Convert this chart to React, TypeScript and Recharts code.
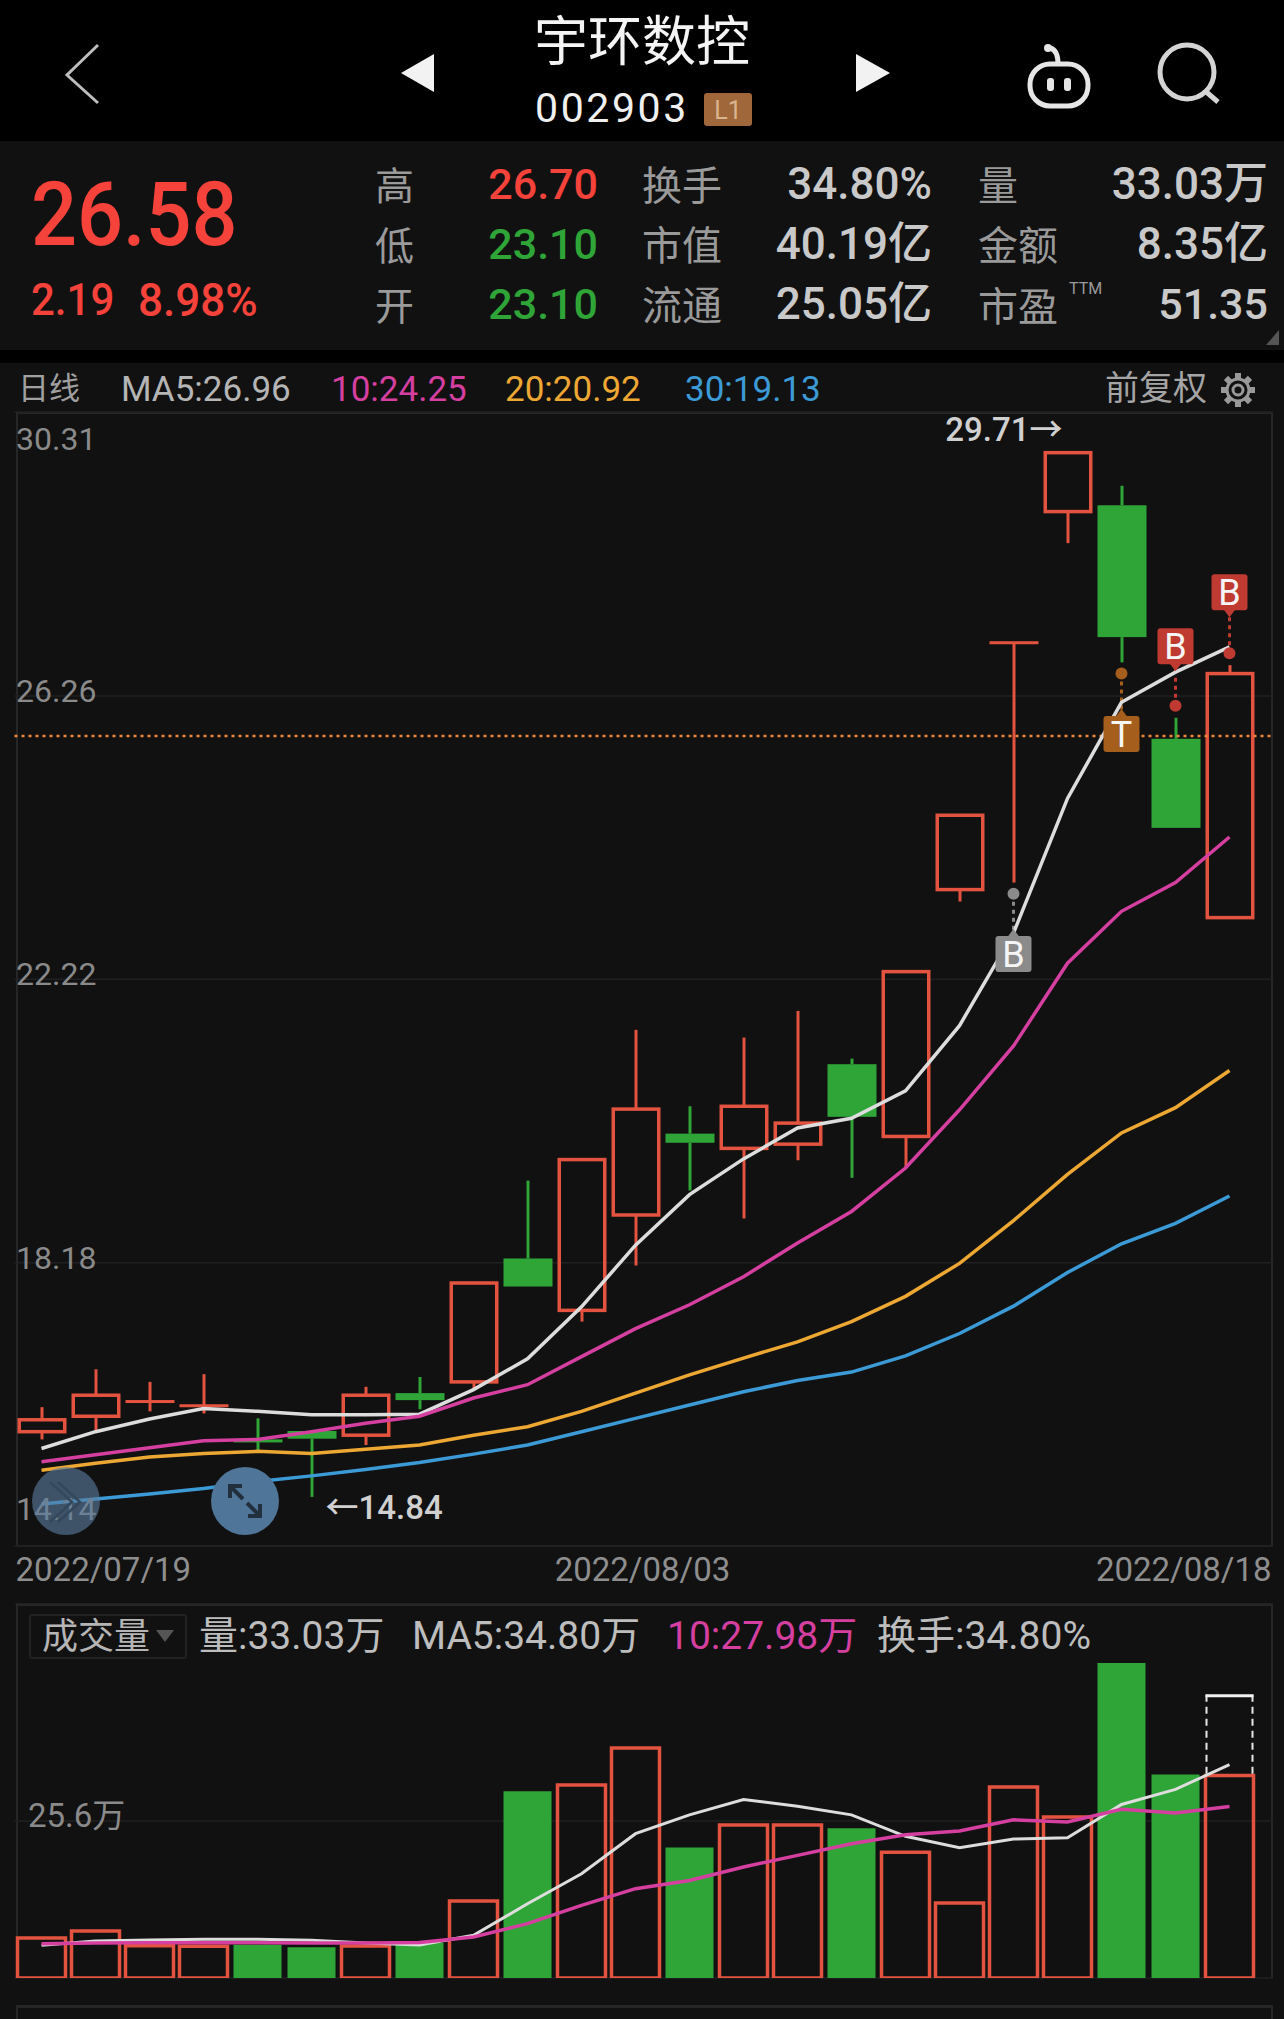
import React from 'react'
import {
  ComposedChart,
  Bar,
  Line,
  Cell,
  XAxis,
  YAxis,
  CartesianGrid,
  ReferenceLine,
  ReferenceDot,
} from 'recharts'

const RED = '#e4533f'
const GREEN = '#2fa538'
const PINK = '#d53fa0'
const ORANGE = '#eda733'
const BLUE = '#3c9bd6'
const WHITE = '#dddddd'
const GRID = '#262626'
const FONT = 'Roboto, "Noto Sans CJK SC", sans-serif'

const DATES = [
  '2022/07/19', '2022/07/20', '2022/07/21', '2022/07/22', '2022/07/25', '2022/07/26',
  '2022/07/27', '2022/07/28', '2022/07/29', '2022/08/01', '2022/08/02', '2022/08/03',
  '2022/08/04', '2022/08/05', '2022/08/08', '2022/08/09', '2022/08/10', '2022/08/11',
  '2022/08/12', '2022/08/15', '2022/08/16', '2022/08/17', '2022/08/18',
]
const DATE_TICKS = ['2022/07/19', '2022/08/03', '2022/08/18']
const PRICE_TICKS = [14.14, 18.18, 22.22, 26.26, 30.31]

const OPEN = [15.77, 15.99, 16.18, 16.14, 15.66, 15.78, 15.72, 16.32, 16.48, 18.24, 17.5, 18.86, 20.02, 19.81, 19.87, 21.01, 19.98, 23.5, 27.02, 28.89, 28.98, 25.65, 23.1]
const CLOSE = [15.94, 16.29, 16.2, 16.14, 15.65, 15.67, 16.29, 16.22, 17.89, 17.84, 19.65, 20.37, 19.89, 20.41, 20.17, 20.26, 22.33, 24.56, 27.02, 29.73, 27.1, 24.38, 26.58]
const HIGH = [16.12, 16.66, 16.48, 16.59, 15.96, 15.78, 16.41, 16.55, 17.89, 19.35, 19.65, 21.5, 20.41, 21.39, 21.77, 21.09, 22.33, 24.56, 27.02, 29.73, 29.26, 25.95, 26.7]
const LOW = [15.66, 15.79, 16.06, 16.03, 15.5, 14.84, 15.58, 16.09, 16.37, 17.84, 17.34, 18.14, 19.21, 18.81, 19.64, 19.39, 19.53, 23.33, 23.6, 28.44, 26.74, 24.38, 23.1]

const MA5 = [15.53, 15.77, 15.95, 16.1, 16.06, 16.01, 16.01, 16.02, 16.37, 16.81, 17.55, 18.43, 19.15, 19.66, 20.1, 20.24, 20.63, 21.56, 22.88, 24.8, 26.17, 26.6, 26.96]
const MA10 = [15.34, 15.44, 15.54, 15.64, 15.66, 15.77, 15.89, 15.99, 16.25, 16.44, 16.84, 17.24, 17.58, 17.98, 18.46, 18.91, 19.53, 20.36, 21.27, 22.45, 23.19, 23.6, 24.25]
const MA20 = [15.22, 15.32, 15.41, 15.46, 15.49, 15.46, 15.52, 15.58, 15.72, 15.84, 16.06, 16.32, 16.58, 16.82, 17.05, 17.34, 17.7, 18.17, 18.78, 19.44, 20.03, 20.39, 20.92]
const MA30 = [14.74, 14.81, 14.88, 14.96, 15.06, 15.14, 15.23, 15.33, 15.45, 15.58, 15.77, 15.96, 16.15, 16.34, 16.5, 16.62, 16.85, 17.17, 17.56, 18.04, 18.45, 18.74, 19.13]

const VOLUME = [6.52, 7.66, 5.27, 5.16, 5.43, 5.0, 5.22, 5.71, 12.55, 30.44, 31.47, 37.5, 21.3, 24.95, 24.95, 24.4, 20.49, 12.23, 31.14, 26.25, 51.36, 33.2, 33.03]
const VOLUME_EXTRA = [0, 0, 0, 0, 0, 0, 0, 0, 0, 0, 0, 0, 0, 0, 0, 0, 0, 0, 0, 0, 0, 0, 13.17]
const VOL_MA5 = [5.33, 6.03, 6.2, 6.3, 6.3, 6.14, 5.7, 5.38, 6.96, 12.1, 17.0, 23.53, 26.6, 29.1, 28.0, 26.6, 23.1, 21.25, 22.66, 22.88, 28.3, 30.76, 34.8]
const VOL_MA10 = [5.6, 5.7, 5.75, 5.75, 5.75, 5.7, 5.7, 5.8, 6.7, 8.86, 11.85, 14.57, 15.9, 18.1, 20.0, 21.9, 23.37, 23.97, 25.8, 25.44, 27.5, 26.9, 27.98]

const SIGNAL_DATES = ['2022/08/12', '2022/08/16', '2022/08/17', '2022/08/18']
const SIGNAL_KINDS = ['B', 'T', 'B', 'B']
const SIGNAL_COLORS = ['#8b8b8b', '#a55e1b', '#bf3a30', '#bf3a30']
const SIGNAL_DOTS = [23.44, 26.58, 26.12, 26.87]
const SIGNAL_BADGES = [22.58, 25.72, 26.97, 27.74]

const priceRows = DATES.map((date, i) => ({
  date,
  open: OPEN[i],
  close: CLOSE[i],
  high: HIGH[i],
  low: LOW[i],
  ma5: MA5[i],
  ma10: MA10[i],
  ma20: MA20[i],
  ma30: MA30[i],
}))

const volumeRows = DATES.map((date, i) => ({
  date,
  volume: VOLUME[i],
  extra: VOLUME_EXTRA[i],
  ma5: VOL_MA5[i],
  ma10: VOL_MA10[i],
  up: CLOSE[i] >= OPEN[i],
}))

// Hollow red for up days, solid green for down days
function Candle(props: any) {
  const { x, y, width, height, payload } = props
  const up = payload.close >= payload.open
  const color = up ? RED : GREEN
  const cx = x + width / 2
  const range = payload.high - payload.low
  const perUnit = range > 0 ? height / range : 0
  const top = y + (payload.high - Math.max(payload.open, payload.close)) * perUnit
  const bottom = y + (payload.high - Math.min(payload.open, payload.close)) * perUnit
  const bodyHeight = Math.max(bottom - top, 3)
  return (
    <g>
      <line x1={cx} x2={cx} y1={y} y2={top} stroke={color} strokeWidth={3} />
      <line x1={cx} x2={cx} y1={bottom} y2={y + height} stroke={color} strokeWidth={3} />
      {up && bottom - top > 4 ? (
        <rect x={x + 1.75} y={top} width={width - 3.5} height={bodyHeight} fill="none" stroke={color} strokeWidth={3.5} />
      ) : (
        <rect x={x} y={top - (up ? 1.5 : 0)} width={width} height={bodyHeight} fill={color} />
      )}
    </g>
  )
}

function PriceTick(props: any) {
  const { y, index, payload } = props
  // The top and bottom labels sit inside the plot, the others straddle their grid line
  const dy = index === 4 ? 38 : index === 0 ? -26 : 6
  return (
    <text x={16} y={y + dy} fill="#8a8a8a" fontSize={32} fontFamily={FONT} textAnchor="start">
      {payload.value.toFixed(2)}
    </text>
  )
}

function DateTick(props: any) {
  const { x, y, index, payload } = props
  const anchor = index === 0 ? 'start' : index === 1 ? 'middle' : 'end'
  const dx = index === 0 ? -26 : index === 1 ? 7 : 42
  return (
    <text x={x + dx} y={y + 27} fill="#8e8e8e" fontSize={33} fontFamily={FONT} textAnchor={anchor}>
      {payload.value}
    </text>
  )
}

function VolumeTick(props: any) {
  const { y, payload } = props
  return (
    <text x={28} y={y + 6} fill="#8a8a8a" fontSize={33} fontFamily={FONT} textAnchor="start">
      {payload.value}万
    </text>
  )
}

function ForecastBar(props: any) {
  const { x, y, width, height, payload } = props
  if (!payload.extra) return null
  return (
    <g>
      <line x1={x + 1} x2={x + 1} y1={y} y2={y + height} stroke="#e8e8e8" strokeWidth={2} strokeDasharray="7 5" />
      <line x1={x + width - 1} x2={x + width - 1} y1={y} y2={y + height} stroke="#e8e8e8" strokeWidth={2} strokeDasharray="7 5" />
      <line x1={x} x2={x + width} y1={y + 1} y2={y + 1} stroke="#f2f2f2" strokeWidth={3} />
    </g>
  )
}

function Badge(props: any) {
  const { cx, cy, kind, color, pointUp } = props
  const tip = pointUp
    ? `${cx - 6},${cy - 17} ${cx + 6},${cy - 17} ${cx},${cy - 25}`
    : `${cx - 6},${cy + 17} ${cx + 6},${cy + 17} ${cx},${cy + 25}`
  return (
    <g>
      <polygon points={tip} fill={color} />
      <rect x={cx - 18} y={cy - 18} width={36} height={36} rx={3} fill={color} />
      <text x={cx} y={cy + 13} textAnchor="middle" fill="#f5f5f5" fontSize={36} fontFamily={FONT}>
        {kind}
      </text>
    </g>
  )
}

function Txt(props: {
  x: number
  y: number
  size: number
  color?: string
  anchor?: 'start' | 'end' | 'middle'
  weight?: number
  spacing?: number
  scaleY?: number
  children: React.ReactNode
}) {
  const { x, y, size, color = '#c9c9c9', anchor = 'start', weight = 400, spacing = 0, scaleY = 1, children } = props
  const tx = anchor === 'end' ? '-100%' : anchor === 'middle' ? '-50%' : '0'
  return (
    <span
      style={{
        position: 'absolute',
        left: x,
        top: y,
        fontSize: size,
        lineHeight: 1,
        color,
        fontWeight: weight,
        letterSpacing: spacing,
        whiteSpace: 'nowrap',
        transform: `translate(${tx}, -50%) scaleY(${scaleY})`,
      }}
    >
      {children}
    </span>
  )
}

function Header() {
  return (
    <>
      <div style={{ position: 'absolute', left: 0, top: 0, width: 1284, height: 141, background: '#000' }} />
      <svg width={1284} height={141} style={{ position: 'absolute', left: 0, top: 0 }}>
        <polyline points="98,45 67,75 98,103" fill="none" stroke="#bdbdbd" strokeWidth={3} />
        <polygon points="434,54 434,92 401,73" fill="#f2f2f2" />
        <polygon points="856,54 856,92 890,73" fill="#f2f2f2" />
        <rect x={1030} y={64} width={58} height={42} rx={20} fill="none" stroke="#e6e6e6" strokeWidth={5} />
        <path d="M1050 48 q8 2 8 16" fill="none" stroke="#e6e6e6" strokeWidth={5} />
        <circle cx={1048} cy={48} r={4} fill="#e6e6e6" />
        <rect x={1047} y={78} width={7} height={13} rx={3} fill="#e6e6e6" />
        <rect x={1064} y={78} width={7} height={13} rx={3} fill="#e6e6e6" />
        <circle cx={1187} cy={72} r={27} fill="none" stroke="#d4d4d4" strokeWidth={5} />
        <line x1={1204} y1={90} x2={1218} y2={102} stroke="#d4d4d4" strokeWidth={5} />
      </svg>
      <Txt x={642} y={43} size={54} color="#f4f4f4" anchor="middle">宇环数控</Txt>
      <Txt x={535} y={108} size={41} color="#f0f0f0" spacing={2.6}>002903</Txt>
      <div style={{ position: 'absolute', left: 704, top: 93, width: 48, height: 33, background: '#a0673a', borderRadius: 3 }} />
      <Txt x={728} y={110} size={25} color="#d9b48e" anchor="middle">L1</Txt>
    </>
  )
}

function Quote() {
  const red = '#f5423a'
  const green = '#2fa538'
  const rows = [186, 246, 306]
  return (
    <>
      <div style={{ position: 'absolute', left: 0, top: 141, width: 1284, height: 209, background: '#111112' }} />
      <Txt x={31} y={215} size={81} color={red} weight={500} scaleY={1.1}>26.58</Txt>
      <Txt x={31} y={300} size={42} color={red} weight={500} scaleY={1.05}>2.19</Txt>
      <Txt x={138} y={300} size={44} color={red} weight={500} scaleY={1.05}>8.98%</Txt>

      <Txt x={375} y={rows[0] + 1} size={39} color="#9a9a9a">高</Txt>
      <Txt x={375} y={rows[1] + 1} size={39} color="#9a9a9a">低</Txt>
      <Txt x={375} y={rows[2] + 1} size={39} color="#9a9a9a">开</Txt>
      <Txt x={598} y={rows[0] - 2} size={43} color={red} anchor="end" weight={500}>26.70</Txt>
      <Txt x={598} y={rows[1] - 2} size={43} color={green} anchor="end" weight={500}>23.10</Txt>
      <Txt x={598} y={rows[2] - 2} size={43} color={green} anchor="end" weight={500}>23.10</Txt>

      <Txt x={642} y={rows[0] + 1} size={40} color="#9a9a9a">换手</Txt>
      <Txt x={642} y={rows[1] + 1} size={40} color="#9a9a9a">市值</Txt>
      <Txt x={642} y={rows[2] + 1} size={40} color="#9a9a9a">流通</Txt>
      <Txt x={932} y={rows[0] - 2} size={44} anchor="end" weight={500}>34.80%</Txt>
      <Txt x={932} y={rows[1] - 2} size={44} anchor="end" weight={500}>40.19亿</Txt>
      <Txt x={932} y={rows[2] - 2} size={44} anchor="end" weight={500}>25.05亿</Txt>

      <Txt x={978} y={rows[0] + 1} size={40} color="#9a9a9a">量</Txt>
      <Txt x={978} y={rows[1] + 1} size={40} color="#9a9a9a">金额</Txt>
      <Txt x={978} y={rows[2] + 2} size={40} color="#9a9a9a">市盈</Txt>
      <Txt x={1069} y={289} size={16} color="#9a9a9a">TTM</Txt>
      <Txt x={1268} y={rows[0] - 2} size={44} anchor="end" weight={500}>33.03万</Txt>
      <Txt x={1268} y={rows[1] - 2} size={44} anchor="end" weight={500}>8.35亿</Txt>
      <Txt x={1268} y={rows[2] - 2} size={43} anchor="end" weight={500}>51.35</Txt>
      <svg width={20} height={20} style={{ position: 'absolute', left: 1264, top: 328 }}>
        <polygon points="15,2 15,17 2,17" fill="#555" />
      </svg>
    </>
  )
}

function Legends() {
  const teeth = [0, 45, 90, 135, 180, 225, 270, 315]
  return (
    <>
      <Txt x={18} y={388} size={31} color="#a0a0a0">日线</Txt>
      <Txt x={121} y={389} size={35} color="#b5b5b5">MA5:26.96</Txt>
      <Txt x={331} y={389} size={35} color={PINK}>10:24.25</Txt>
      <Txt x={505} y={389} size={35} color={ORANGE}>20:20.92</Txt>
      <Txt x={685} y={389} size={35} color={BLUE}>30:19.13</Txt>
      <Txt x={1105} y={388} size={34} color="#a5a5a5">前复权</Txt>
      <svg width={40} height={40} style={{ position: 'absolute', left: 1218, top: 370 }}>
        <circle cx={20} cy={20} r={11} fill="none" stroke="#999" strokeWidth={3} />
        <circle cx={20} cy={20} r={5} fill="none" stroke="#999" strokeWidth={3} />
        {teeth.map((angle) => (
          <rect key={angle} x={17} y={3} width={6} height={6} fill="#999" transform={`rotate(${angle} 20 20)`} />
        ))}
      </svg>

      <div
        style={{
          position: 'absolute',
          left: 29,
          top: 1614,
          width: 158,
          height: 45,
          border: '2px solid #222',
          boxSizing: 'border-box',
          borderRadius: 3,
        }}
      />
      <Txt x={42} y={1637} size={36} color="#b5b5b5">成交量</Txt>
      <svg width={20} height={14} style={{ position: 'absolute', left: 156, top: 1630 }}>
        <polygon points="0,0 18,0 9,12" fill="#555" />
      </svg>
      <Txt x={199} y={1636} size={39} color="#bdbdbd">量:33.03万</Txt>
      <Txt x={412} y={1636} size={39} color="#bdbdbd">MA5:34.80万</Txt>
      <Txt x={667} y={1636} size={39} color={PINK}>10:27.98万</Txt>
      <Txt x={877} y={1636} size={39} color="#bdbdbd">换手:34.80%</Txt>
    </>
  )
}

function FloatingButtons() {
  return (
    <svg width={300} height={90} style={{ position: 'absolute', left: 0, top: 1456 }}>
      <circle cx={66} cy={45} r={34} fill="#5a7c9e" fillOpacity={0.62} />
      <g fill="none" stroke="#33485c" strokeWidth={2.5}>
        <polyline points="50,26 72,46 50,66" />
        <polyline points="58,26 80,46 58,66" />
      </g>
      <circle cx={245} cy={45} r={34} fill="#4f7599" />
      <g fill="none" stroke="#22303e" strokeWidth={4}>
        <polyline points="230,42 230,30 242,30" />
        <line x1={231} y1={31} x2={243} y2={43} />
        <polyline points="260,48 260,60 248,60" />
        <line x1={259} y1={59} x2={247} y2={47} />
      </g>
    </svg>
  )
}

export default function App() {
  return (
    <div
      style={{
        position: 'absolute',
        left: 0,
        top: 0,
        width: 1284,
        height: 2019,
        background: '#000',
        overflow: 'hidden',
        fontFamily: FONT,
      }}
    >
      <Header />
      <Quote />
      <div style={{ position: 'absolute', left: 0, top: 363, width: 1284, height: 1656, background: '#111112' }} />

      {/* Frames around the two plots */}
      <div style={{ position: 'absolute', left: 16, top: 412, width: 1257, height: 1135, border: `2px solid ${GRID}`, boxSizing: 'border-box' }} />
      <div style={{ position: 'absolute', left: 16, top: 1603, width: 1257, height: 375, borderTop: `3px solid ${GRID}`, borderLeft: `2px solid ${GRID}`, borderRight: `2px solid ${GRID}`, boxSizing: 'border-box' }} />
      <div style={{ position: 'absolute', left: 16, top: 2005, width: 1257, height: 14, borderTop: `3px solid ${GRID}`, borderLeft: `2px solid ${GRID}`, borderRight: `2px solid ${GRID}`, boxSizing: 'border-box' }} />

      <Legends />

      <div style={{ position: 'absolute', left: 0, top: 400 }}>
        <ComposedChart
          width={1284}
          height={1200}
          data={priceRows}
          margin={{ top: 12, right: 11, bottom: 0, left: 0 }}
        >
          <CartesianGrid vertical={false} stroke="#202022" strokeWidth={1.5} />
          <XAxis
            dataKey="date"
            ticks={DATE_TICKS}
            interval={0}
            height={54}
            padding={{ left: 0, right: 16.5 }}
            axisLine={false}
            tickLine={false}
            tick={DateTick}
          />
          <YAxis
            domain={[14.14, 30.31]}
            ticks={PRICE_TICKS}
            interval={0}
            width={14.5}
            axisLine={false}
            tickLine={false}
            tick={PriceTick}
            allowDataOverflow
          />
          <ReferenceLine y={25.69} stroke="#ee8638" strokeWidth={2.5} strokeDasharray="3 4" />
          <Bar
            dataKey={(d: any) => [d.low, d.high]}
            barSize={49}
            shape={Candle}
            isAnimationActive={false}
          />
          {SIGNAL_DATES.map((date, i) => (
            <ReferenceLine
              key={date}
              segment={[
                { x: date, y: SIGNAL_DOTS[i] },
                { x: date, y: SIGNAL_BADGES[i] },
              ]}
              stroke={SIGNAL_COLORS[i]}
              strokeWidth={3}
              strokeDasharray="4 4"
            />
          ))}
          {SIGNAL_DATES.map((date, i) => (
            <ReferenceDot key={date} x={date} y={SIGNAL_DOTS[i]} r={6} fill={SIGNAL_COLORS[i]} stroke="none" />
          ))}
          {SIGNAL_DATES.map((date, i) => (
            <ReferenceDot
              key={date}
              x={date}
              y={SIGNAL_BADGES[i]}
              shape={(p: any) => (
                <Badge
                  cx={p.cx}
                  cy={p.cy}
                  kind={SIGNAL_KINDS[i]}
                  color={SIGNAL_COLORS[i]}
                  pointUp={SIGNAL_BADGES[i] < SIGNAL_DOTS[i]}
                />
              )}
            />
          ))}
          <ReferenceDot
            x="2022/08/15"
            y={29.71}
            shape={(p: any) => (
              <text x={p.cx - 5} y={p.cy - 13} textAnchor="end" fill="#d0d0d0" fontSize={33} fontWeight={500} fontFamily={FONT}>
                29.71→
              </text>
            )}
          />
          <ReferenceDot
            x="2022/07/26"
            y={14.84}
            shape={(p: any) => (
              <text x={p.cx + 14} y={p.cy + 22} textAnchor="start" fill="#d0d0d0" fontSize={33} fontWeight={500} fontFamily={FONT}>
                ←14.84
              </text>
            )}
          />
          <Line dataKey="ma5" stroke={WHITE} strokeWidth={3.5} dot={false} isAnimationActive={false} />
          <Line dataKey="ma10" stroke={PINK} strokeWidth={3.5} dot={false} isAnimationActive={false} />
          <Line dataKey="ma20" stroke={ORANGE} strokeWidth={3.5} dot={false} isAnimationActive={false} />
          <Line dataKey="ma30" stroke={BLUE} strokeWidth={3.5} dot={false} isAnimationActive={false} />
        </ComposedChart>
      </div>

      <FloatingButtons />

      <div style={{ position: 'absolute', left: 0, top: 1603 }}>
        <ComposedChart
          width={1284}
          height={376}
          data={volumeRows}
          margin={{ top: 0, right: 11, bottom: 1, left: 0 }}
        >
          <CartesianGrid vertical={false} stroke="#202022" strokeWidth={1.5} />
          <XAxis dataKey="date" hide padding={{ left: 0, right: 16.5 }} />
          <YAxis
            domain={[0, 61.15]}
            ticks={[25.6]}
            interval={0}
            width={14.5}
            axisLine={false}
            tickLine={false}
            tick={VolumeTick}
            allowDataOverflow
          />
          <Bar dataKey="volume" stackId="v" barSize={48} isAnimationActive={false}>
            {volumeRows.map((row) => (
              <Cell
                key={row.date}
                fill={row.up ? 'none' : GREEN}
                stroke={row.up ? RED : 'none'}
                strokeWidth={3.5}
              />
            ))}
          </Bar>
          <Bar dataKey="extra" stackId="v" barSize={48} shape={ForecastBar} isAnimationActive={false} />
          <Line dataKey="ma5" stroke={WHITE} strokeWidth={3} dot={false} isAnimationActive={false} />
          <Line dataKey="ma10" stroke={PINK} strokeWidth={3.5} dot={false} isAnimationActive={false} />
        </ComposedChart>
      </div>
    </div>
  )
}
